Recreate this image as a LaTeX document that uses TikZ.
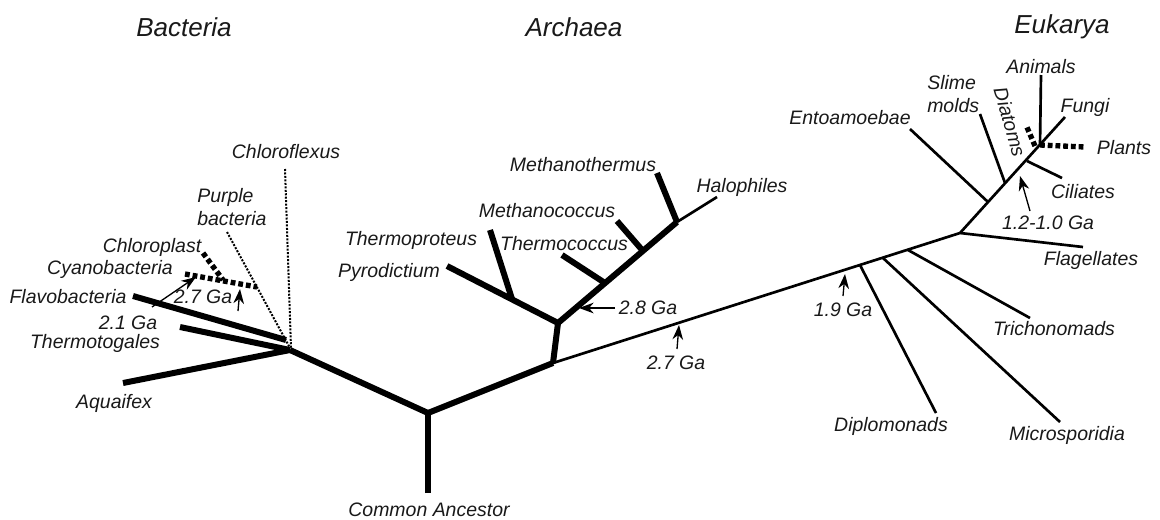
\documentclass[tikz,border=0pt]{standalone}
\usepackage{fontspec}
\setmainfont{Liberation Sans}
\usetikzlibrary{arrows.meta}
\begin{document}
\begin{tikzpicture}[x=0.75pt,y=-0.75pt,
  thickline/.style={line width=4.5pt},
  thinline/.style={line width=2pt},
  dotline/.style={line width=1.5pt, dash pattern=on 1.5pt off 1.1pt},
  dashline/.style={line width=4pt, dash pattern=on 3.6pt off 2.2pt},
  gaarrow/.style={line width=1pt, -{Stealth[length=11pt,width=8pt,inset=3.5pt]}},
  lbl/.style={font=\fontsize{14.6}{17}\selectfont\itshape, inner sep=0pt, text=black!90},
  ttl/.style={font=\fontsize{19.5}{22}\selectfont\itshape, inner sep=0pt, text=black!90}]
\useasboundingbox (0,0) rectangle (1160,519);

% ---------- titles
\node[ttl] (tB) at (184,27) {Bacteria};
\node[ttl] (tA) at (574,27) {Archaea};
\node[ttl] (tE) at (1062,27) {Eukarya};

% ---------- coordinates
\coordinate (root) at (428,413);
\coordinate (rootend) at (428,493);
\coordinate (bnode) at (290,350);
\coordinate (anode) at (553,363);
\coordinate (astem) at (558,323);
% bacteria tips
\coordinate (aqua) at (123,383);
\coordinate (thermo) at (180,327);
\coordinate (flavoA) at (133,296);
\coordinate (flavoB) at (286,340);
\coordinate (chlfx) at (285,169);
\coordinate (chlfxB) at (291,348);
\coordinate (purple) at (227,232);
\coordinate (purpleB) at (290,348);
\coordinate (cyano) at (185,274);
\coordinate (cyanoB) at (257,287);
\coordinate (chlpl) at (203,253);
\coordinate (chlplB) at (223,280);
% archaea
\coordinate (pyro) at (447,266);
\coordinate (tprotB) at (512,299);
\coordinate (tprot) at (490,230);
\coordinate (anode2) at (677,222);
\coordinate (tcocB) at (605,283);
\coordinate (tcoc) at (562,255);
\coordinate (mcocB) at (643,251);
\coordinate (mcoc) at (617,221);
\coordinate (mtherm) at (657,173);
\coordinate (halo) at (717,197);
% eukarya
\coordinate (enode) at (960,233);
\coordinate (flag) at (1083,247);
\coordinate (trichB) at (908,250);
\coordinate (trich) at (1030,318);
\coordinate (microB) at (883,258);
\coordinate (micro) at (1060,422);
\coordinate (diploB) at (860,265);
\coordinate (diplo) at (936,413);
\coordinate (fungi) at (1065,117);
\coordinate (entoB) at (988,202);
\coordinate (ento) at (910,129);
\coordinate (slimeB) at (1005,183);
\coordinate (slime) at (980,114);
\coordinate (cilB) at (1027,161);
\coordinate (cil) at (1062,178);
\coordinate (crown) at (1040,145);
\coordinate (anim) at (1041,75);
\coordinate (plants) at (1085,147);
\coordinate (diatA) at (1035,146);
\coordinate (diat) at (1026,125);
% arrow ends
\coordinate (a21s) at (152,307); \coordinate (a21e) at (196,277);
\coordinate (a27bs) at (238,311); \coordinate (a27be) at (240,289);
\coordinate (a28s) at (615,308); \coordinate (a28e) at (579,308);
\coordinate (a27s) at (677,349); \coordinate (a27e) at (679,325);
\coordinate (a19s) at (843,296); \coordinate (a19e) at (845,274);
\coordinate (a12s) at (1030,211); \coordinate (a12e) at (1020,176);

% ---------- bacteria
\draw[thickline] (rootend) -- (root);
\draw[thickline] (root) -- (bnode);
\draw[thickline] (root) -- (anode);
\draw[thickline] (aqua) -- (bnode);
\draw[thickline] (thermo) -- (bnode);
\draw[thickline] (flavoA) -- (flavoB);
\draw[dotline] (chlfx) -- (chlfxB);
\draw[dotline] (purple) -- (purpleB);
\draw[dashline] (cyano) -- (cyanoB);
\draw[dashline] (chlpl) -- (chlplB);

% ---------- archaea
\draw[thickline] (anode) -- (astem);
\draw[thickline] (astem) -- (pyro);
\draw[thickline] (tprotB) -- (tprot);
\draw[thickline] (astem) -- (anode2);
\draw[thickline] (tcocB) -- (tcoc);
\draw[thickline] (mcocB) -- (mcoc);
\draw[thickline] (anode2) -- (mtherm);
\draw[thinline] (anode2) -- (halo);

% ---------- eukarya
\draw[thinline] (anode) -- (enode);
\draw[thinline] (enode) -- (flag);
\draw[thinline] (trichB) -- (trich);
\draw[thinline] (microB) -- (micro);
\draw[thinline] (diploB) -- (diplo);
\draw[thinline] (enode) -- (fungi);
\draw[thinline] (entoB) -- (ento);
\draw[thinline] (slimeB) -- (slime);
\draw[thinline] (cilB) -- (cil);
\draw[thinline] (crown) -- (anim);
\draw[dashline] (crown) -- (plants);
\draw[dashline] (diatA) -- (diat);

% ---------- arrows
\draw[gaarrow] (a21s) -- (a21e);
\draw[gaarrow] (a27bs) -- (a27be);
\draw[gaarrow] (a28s) -- (a28e);
\draw[gaarrow] (a27s) -- (a27e);
\draw[gaarrow] (a19s) -- (a19e);
\draw[gaarrow] (a12s) -- (a12e);

% ---------- labels
\node[lbl] (lCA) at (429,510) {Common Ancestor};
\node[lbl] (lAq) at (114,403) {Aquaifex};
\node[lbl] (lTh) at (95,343) {Thermotogales};
\node[lbl] (l21) at (128,323) {2.1 Ga};
\node[lbl] (lFl) at (68,297) {Flavobacteria};
\node[lbl] (l27b) at (203,297) {2.7 Ga};
\node[lbl] (lCy) at (110,269) {Cyanobacteria};
\node[lbl] (lCp) at (152,247) {Chloroplast};
\node[lbl, align=left, anchor=west] (lPu) at (197,207) {Purple\\bacteria};
\node[lbl] (lCf) at (286,152) {Chloroflexus};

\node[lbl] (lPy) at (389,272) {Pyrodictium};
\node[lbl] (lTp) at (411,240) {Thermoproteus};
\node[lbl] (lTc) at (564,244) {Thermococcus};
\node[lbl] (lMc) at (547,211) {Methanococcus};
\node[lbl] (lMt) at (583,165) {Methanothermus};
\node[lbl] (lHa) at (742,187) {Halophiles};
\node[lbl] (l28) at (648,308) {2.8 Ga};
\node[lbl] (l27) at (676,363) {2.7 Ga};

\node[lbl] (l19) at (843,310) {1.9 Ga};
\node[lbl] (lDi) at (891,426) {Diplomonads};
\node[lbl] (lMi) at (1067,435) {Microsporidia};
\node[lbl] (lTr) at (1054,329) {Trichonomads};
\node[lbl] (lFg) at (1091,260) {Flagellates};
\node[lbl] (l12) at (1048,223) {1.2-1.0 Ga};
\node[lbl] (lCi) at (1083,192) {Ciliates};
\node[lbl] (lPl) at (1124,148) {Plants};
\node[lbl] (lFu) at (1085,107) {Fungi};
\node[lbl] (lAn) at (1041,67) {Animals};
\node[lbl, rotate=-74] (lDt) at (1010,122) {Diatoms};
\node[lbl, align=left, anchor=west] (lSl) at (927,94) {Slime\\molds};
\node[lbl] (lEn) at (850,118) {Entoamoebae};
\end{tikzpicture}
\end{document}
